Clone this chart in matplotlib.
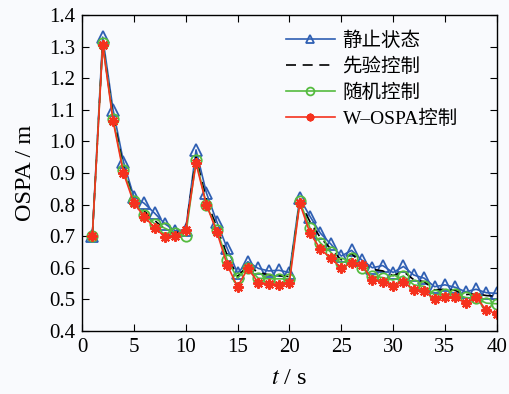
import matplotlib
matplotlib.use('Agg')
import matplotlib.pyplot as plt
import numpy as np

plt.rcParams['font.family'] = ['Liberation Serif', 'Noto Sans CJK SC']
plt.rcParams['mathtext.fontset'] = 'stix'

t = np.arange(1, 41)

static = [0.70, 1.33, 1.10, 0.936, 0.825, 0.804, 0.773, 0.739, 0.717, 0.72,
          0.973, 0.837, 0.746, 0.662, 0.583, 0.619, 0.598, 0.59, 0.592, 0.585,
          0.82, 0.762, 0.709, 0.675, 0.637, 0.655, 0.624, 0.60, 0.607, 0.585,
          0.604, 0.577, 0.567, 0.54, 0.546, 0.538, 0.524, 0.532, 0.521, 0.519]

prior = [0.70, 1.31, 1.08, 0.92, 0.812, 0.78, 0.75, 0.722, 0.71, 0.72,
         0.95, 0.815, 0.728, 0.64, 0.572, 0.608, 0.585, 0.578, 0.575, 0.572,
         0.81, 0.745, 0.695, 0.66, 0.625, 0.645, 0.612, 0.595, 0.59, 0.575,
         0.588, 0.562, 0.556, 0.53, 0.532, 0.528, 0.515, 0.518, 0.512, 0.51]

random_ctrl = [0.70, 1.31, 1.07, 0.91, 0.81, 0.767, 0.74, 0.725, 0.71, 0.70,
               0.94, 0.80, 0.72, 0.625, 0.567, 0.60, 0.567, 0.565, 0.565, 0.565,
               0.81, 0.725, 0.678, 0.649, 0.614, 0.63, 0.598, 0.574, 0.569, 0.561,
               0.574, 0.546, 0.541, 0.514, 0.517, 0.516, 0.506, 0.503, 0.488, 0.486]

wospa = [0.70, 1.305, 1.065, 0.90, 0.805, 0.762, 0.727, 0.698, 0.70, 0.72,
         0.93, 0.80, 0.714, 0.609, 0.54, 0.598, 0.553, 0.549, 0.546, 0.552,
         0.804, 0.709, 0.659, 0.63, 0.60, 0.614, 0.61, 0.561, 0.556, 0.542,
         0.556, 0.53, 0.527, 0.50, 0.509, 0.506, 0.488, 0.506, 0.466, 0.454]

labels = ['静止状态', '先验控制', '随机控制', 'W–OSPA控制']

fig = plt.figure(figsize=(5.09, 3.94), dpi=100, facecolor='#f9fafd')
ax = fig.add_axes([0.161, 0.160, 0.815, 0.802])
ax.set_facecolor('#f9fafd')

ax.plot(t, static, color='#2f5fb3', lw=1.2, marker='^', ms=8, mfc='none',
        mew=1.3, label=labels[0])
ax.plot(t, prior, color='black', lw=1.2, ls=(0, (6, 4)), label=labels[1])
ax.plot(t, random_ctrl, color='#55bb3f', lw=1.2, marker='o', ms=7.5, mfc='none',
        mew=1.3, label=labels[2])
ax.plot(t, wospa, color='#f5321e', lw=1.2, marker=(8, 2, 0), ms=7.5, mew=1.5,
        label=labels[3])

ax.set_xlim(0, 40)
ax.set_ylim(0.4, 1.4)
ax.set_xticks(np.arange(0, 41, 5))
ax.set_yticks(np.arange(0.4, 1.41, 0.1))
ax.set_yticklabels(['%.1f' % v for v in np.arange(0.4, 1.41, 0.1)])
ax.tick_params(direction='in', top=True, right=True, labelsize=15, length=5, pad=5)
for s in ax.spines.values():
    s.set_linewidth(1.0)

ax.set_xlabel('$t$ / s', fontsize=17.5, labelpad=8)
ax.set_ylabel('OSPA / m', fontsize=17.5, labelpad=9)

leg = ax.legend(loc='upper left', bbox_to_anchor=(0.45, 1.003), frameon=False,
                fontsize=14, handlelength=2.5, labelspacing=0.4,
                handletextpad=0.4, markerscale=0.75)

fig.savefig('out.png', dpi=100, facecolor=fig.get_facecolor())
